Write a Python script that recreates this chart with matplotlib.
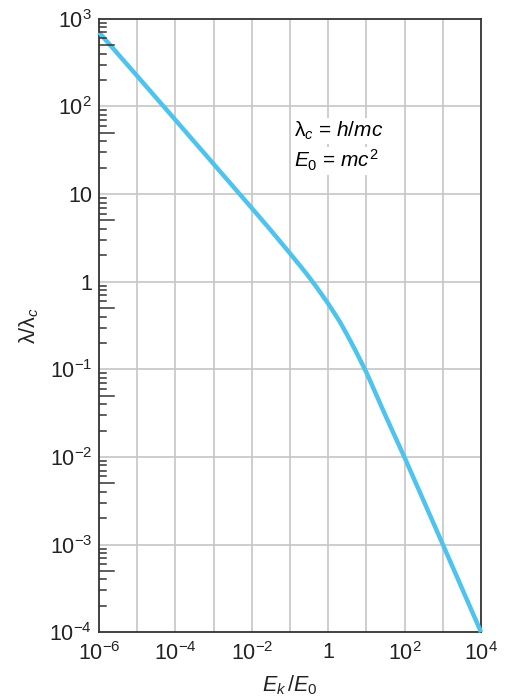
import numpy as np
import matplotlib.pyplot as plt
from matplotlib.transforms import blended_transform_factory

plt.rcParams['font.family'] = ['Liberation Sans', 'DejaVu Sans']
plt.rcParams['mathtext.fontset'] = 'custom'
plt.rcParams['mathtext.rm'] = 'Liberation Sans'
plt.rcParams['mathtext.it'] = 'Liberation Sans:italic'

# curve
ek = [1e-6, 1e-5, 1e-4, 1e-3, 1e-2, 3e-2, 0.1, 0.2, 0.3, 0.5, 1, 2, 3, 5, 10, 30, 100, 1000, 1e4]
lam = [700, 222, 70, 22, 6.9, 3.95, 2.1, 1.45, 1.16, 0.86, 0.56, 0.35, 0.255, 0.168, 0.092, 0.031,
       0.0098, 0.001, 0.0001]

xticks = [1e-6, 1e-4, 1e-2, 1, 1e2, 1e4]
xticklabels = [r'$10^{-6}$', r'$10^{-4}$', r'$10^{-2}$', '1', r'$10^{2}$', r'$10^{4}$']
yticks = [1e-4, 1e-3, 1e-2, 1e-1, 1, 10, 1e2, 1e3]
yticklabels = [r'$10^{-4}$', r'$10^{-3}$', r'$10^{-2}$', r'$10^{-1}$', '1', '10', r'$10^{2}$', r'$10^{3}$']

fig = plt.figure(figsize=(5.08, 6.97), dpi=100)
ax = fig.add_axes([0.195, 0.093, 0.752, 0.880])
ax.set_xscale('log')
ax.set_yscale('log')
ax.set_xlim(1e-6, 1e4)
ax.set_ylim(1e-4, 1e3)

# grid at every decade
for k in range(-5, 4):
    ax.axvline(10.0**k, color='#c6c6c6', lw=1.2, zorder=1)
for k in range(-3, 3):
    ax.axhline(10.0**k, color='#c6c6c6', lw=1.2, zorder=1)

ax.plot(ek, lam, color='#4dc3ee', lw=3.2, zorder=3, clip_on=False, solid_capstyle='butt',
        solid_joinstyle='round')

ax.set_xticks(xticks)
ax.set_xticklabels(xticklabels)
ax.set_yticks(yticks)
ax.set_yticklabels(yticklabels)
ax.minorticks_off()
ax.tick_params(axis='both', length=0, labelsize=15.5, colors='#222222', pad=5)
ax.tick_params(axis='x', pad=7)

# minor y ticks drawn inward, the 5s longer
tr = blended_transform_factory(ax.transAxes, ax.transData)
for k in range(-4, 3):
    for m in range(2, 10):
        v = m * 10.0**k
        L = 0.04 if m == 5 else 0.019
        ax.plot([0, L], [v, v], color='#333333', lw=1.1, transform=tr, zorder=4)

for s in ax.spines.values():
    s.set_linewidth(1.3)
    s.set_color('#333333')

ax.text(10**-0.9, 10**1.72, r'$\mathrm{\lambda}_c$ = $h/mc$', fontsize=15, va='center', ha='left',
        zorder=5, bbox=dict(facecolor='white', edgecolor='none', pad=1))
ax.text(10**-0.9, 10**1.38, r'$E_0$ = $mc^2$', fontsize=15, va='center', ha='left',
        zorder=5, bbox=dict(facecolor='white', edgecolor='none', pad=1))

ax.set_xlabel(r'$E_k\,/E_0$', fontsize=15.5, color='#222222', labelpad=6)
ax.set_ylabel(r'$\mathrm{\lambda}/\mathrm{\lambda}_c$', fontsize=15.5, color='#222222', labelpad=6)

fig.savefig('out.png', dpi=100)
